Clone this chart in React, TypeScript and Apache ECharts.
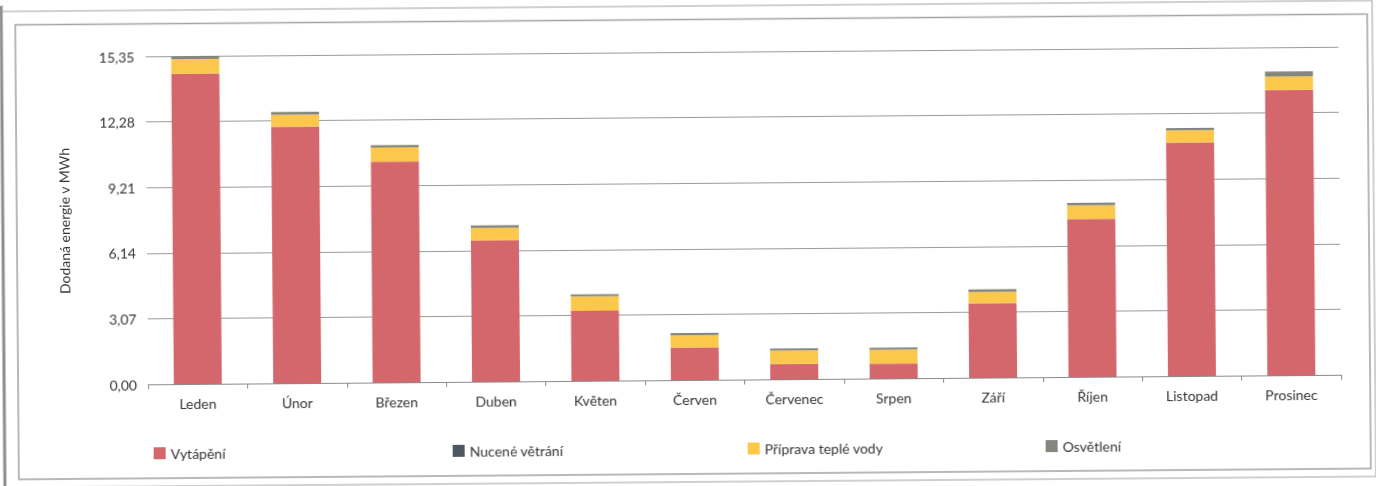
import React, { useEffect, useRef } from "react";
import * as echarts from "echarts";

// Monthly delivered energy (MWh), stacked by consumer type
const months = ["Leden", "Únor", "Březen", "Duben", "Květen", "Červen", "Červenec", "Srpen", "Září", "Říjen", "Listopad", "Prosinec"];
const vytapeni = [14.52, 12.0, 10.33, 6.61, 3.28, 1.52, 0.71, 0.69, 3.48, 7.38, 10.93, 13.35];
const nuceneVetrani = [0, 0, 0, 0, 0, 0, 0, 0, 0, 0, 0, 0];
const pripravaTepleVody = [0.69, 0.56, 0.67, 0.59, 0.67, 0.58, 0.63, 0.65, 0.53, 0.65, 0.57, 0.63];
const osvetleni = [0.14, 0.13, 0.1, 0.11, 0.1, 0.1, 0.1, 0.1, 0.12, 0.11, 0.11, 0.23];

const seriesNames = ["Vytápění", "Nucené větrání", "Příprava teplé vody", "Osvětlení"];
const seriesColors = ["#d4676c", "#4d5863", "#fbc84c", "#858580"];
const axisMax = 15.35;
const axisStep = 3.07;

const FONT = "Lato, 'Noto Sans', sans-serif";
const TEXT = "#363636";

export default function App() {
  const ref = useRef<HTMLDivElement>(null);

  useEffect(() => {
    if (!ref.current) return;
    const chart = echarts.init(ref.current, null, { renderer: "svg" });
    const values = [vytapeni, nuceneVetrani, pripravaTepleVody, osvetleni];
    const legendLeft = [147, 446, 741, 1039];

    chart.setOption({
      animation: false,
      backgroundColor: "#ffffff",
      textStyle: { fontFamily: FONT },
      grid: { left: 147, right: 36, top: 52, bottom: 106 },
      legend: seriesNames.map((n, i) => ({
        data: [n],
        left: legendLeft[i],
        top: 437,
        itemWidth: 12,
        itemHeight: 12,
        icon: "rect",
        selectedMode: false,
        textStyle: { fontSize: 14, color: TEXT, fontFamily: FONT },
      })),
      xAxis: {
        type: "category",
        data: months,
        axisLine: { lineStyle: { color: "#8a8a8a", width: 1 } },
        axisTick: { show: true, length: 5, lineStyle: { color: "#8a8a8a" } },
        axisLabel: { fontSize: 14, color: TEXT, margin: 12, fontFamily: FONT },
      },
      yAxis: {
        type: "value",
        min: 0,
        max: axisMax,
        interval: axisStep,
        name: "Dodaná energie v MWh",
        nameLocation: "middle",
        nameGap: 76,
        nameRotate: 90,
        nameTextStyle: { fontSize: 14, color: TEXT, fontFamily: FONT },
        axisLine: { show: false },
        axisTick: { show: false },
        axisLabel: {
          fontSize: 14,
          color: TEXT,
          margin: 11,
          fontFamily: FONT,
          formatter: (v: number) => v.toFixed(2).replace(".", ","),
        },
        splitLine: { lineStyle: { color: "#9a9a9a", width: 1 } },
      },
      series: seriesNames.map((n, i) => ({
        name: n,
        type: "bar",
        stack: "total",
        barWidth: 48,
        data: values[i],
        itemStyle: { color: seriesColors[i] },
      })),
      graphic: [
        {
          type: "rect",
          silent: true,
          shape: { x: 3, y: 6, width: 1371, height: 476 },
          style: { fill: "none", stroke: "#a0a0a0", lineWidth: 1 },
        },
        {
          type: "line",
          silent: true,
          shape: { x1: 3, y1: 0, x2: 3, y2: 486 },
          style: { stroke: "#8c8c8c", lineWidth: 3 },
        },
        {
          type: "rect",
          silent: true,
          shape: { x: 17, y: 19.5, width: 1352, height: 454.5 },
          style: { fill: "none", stroke: "#a3a3a3", lineWidth: 1.5 },
        },
      ],
    });

    return () => chart.dispose();
  }, []);

  return (
    <div
      ref={ref}
      style={{
        position: "fixed",
        left: 0,
        top: 0,
        width: 1376,
        height: 486,
        transform: "rotate(-0.46deg)",
        transformOrigin: "50% 50%",
      }}
    />
  );
}
